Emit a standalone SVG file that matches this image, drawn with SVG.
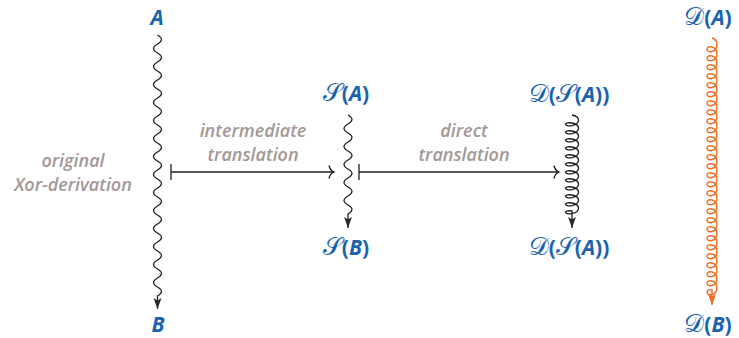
<svg xmlns="http://www.w3.org/2000/svg" width="739" height="338" viewBox="0 0 739 338">
  <style>
    .lbl { font-family: "Open Sans", "Liberation Sans", sans-serif; font-size: 21px; font-weight: bold; font-style: italic; fill: #1a62ad; }
    .lbl .up { font-style: normal; }
    .lbl .cal { font-family: "DejaVu Serif", "DejaVu Sans", serif; font-size: 25px; font-weight: normal; font-style: normal; }
    .note { font-family: "Open Sans", "Liberation Sans", sans-serif; font-size: 18px; font-weight: 600; font-style: italic; fill: #a39896; text-anchor: middle; }
    .wave { fill: none; stroke: #1e1e1e; stroke-width: 1.3; marker-end: url(#tip); }
    .coil-o { fill: none; stroke: #ee6a1f; stroke-width: 1.4; marker-end: url(#tipOrange); }
    .map { fill: none; stroke: #1e1e1e; stroke-width: 1.3; marker-start: url(#bar); marker-end: url(#hook); }
  </style>
  <defs>
    <marker id="tip" markerUnits="userSpaceOnUse" viewBox="0 0 12 10" markerWidth="12" markerHeight="10" refX="11" refY="5" orient="auto">
      <path d="M0,1 L11,5 L0,9 L2.5,5 z" fill="#2a2a2a"/>
    </marker>
    <marker id="tipOrange" markerUnits="userSpaceOnUse" viewBox="0 0 12 10" markerWidth="12" markerHeight="10" refX="11" refY="5" orient="auto">
      <path d="M0,1 L11,5 L0,9 L2.5,5 z" fill="#ee6a1f"/>
    </marker>
    <marker id="hook" markerUnits="userSpaceOnUse" viewBox="0 0 10 16" markerWidth="10" markerHeight="16" refX="9" refY="8" orient="auto" overflow="visible">
      <path d="M4,1.5 Q5,6.5 9,8 Q5,9.5 4,14.5" fill="none" stroke="#1e1e1e" stroke-width="1.3"/>
    </marker>
    <marker id="bar" markerUnits="userSpaceOnUse" viewBox="0 0 2 16" markerWidth="2" markerHeight="16" refX="1" refY="8" orient="auto" overflow="visible">
      <path d="M1,0 V16" stroke="#1e1e1e" stroke-width="1.3"/>
    </marker>
  </defs>

  <!-- nodes -->
  <g id="node-A"><text class="lbl" x="157" y="25" text-anchor="middle">A</text></g>
  <g id="node-B"><text class="lbl" x="158" y="332" text-anchor="middle">B</text></g>
  <g id="node-SA"><text class="lbl" x="346" y="101" text-anchor="middle"><tspan class="cal">𝒮</tspan><tspan class="up">(</tspan>A<tspan class="up">)</tspan></text></g>
  <g id="node-SB"><text class="lbl" x="346" y="255" text-anchor="middle"><tspan class="cal">𝒮</tspan><tspan class="up">(</tspan>B<tspan class="up">)</tspan></text></g>
  <g id="node-DSA-top"><text class="lbl" x="569" y="102" text-anchor="middle"><tspan class="cal">𝒟</tspan><tspan class="up">(</tspan><tspan class="cal">𝒮</tspan><tspan class="up">(</tspan>A<tspan class="up">))</tspan></text></g>
  <g id="node-DSA-bottom"><text class="lbl" x="569" y="255" text-anchor="middle"><tspan class="cal">𝒟</tspan><tspan class="up">(</tspan><tspan class="cal">𝒮</tspan><tspan class="up">(</tspan>A<tspan class="up">))</tspan></text></g>
  <g id="node-DA"><text class="lbl" x="708" y="25" text-anchor="middle"><tspan class="cal">𝒟</tspan><tspan class="up">(</tspan>A<tspan class="up">)</tspan></text></g>
  <g id="node-DB"><text class="lbl" x="708" y="332" text-anchor="middle"><tspan class="cal">𝒟</tspan><tspan class="up">(</tspan>B<tspan class="up">)</tspan></text></g>

  <!-- edge labels -->
  <g id="labels">
    <text class="note" x="73" y="167">original</text>
    <text class="note" x="73" y="191">Xor-derivation</text>
    <text class="note" x="253" y="137">intermediate</text>
    <text class="note" x="253" y="161">translation</text>
    <text class="note" x="464" y="137">direct</text>
    <text class="note" x="464" y="161">translation</text>
  </g>

  <!-- connectors -->
  <g id="connectors">
    <!-- A to B: snake, 14.5 periods of 18px -->
    <path class="wave" d="M157.5,35
      c5.3 3 5.3 6 0 9c-5.3 3-5.3 6 0 9 c5.3 3 5.3 6 0 9c-5.3 3-5.3 6 0 9
      c5.3 3 5.3 6 0 9c-5.3 3-5.3 6 0 9 c5.3 3 5.3 6 0 9c-5.3 3-5.3 6 0 9
      c5.3 3 5.3 6 0 9c-5.3 3-5.3 6 0 9 c5.3 3 5.3 6 0 9c-5.3 3-5.3 6 0 9
      c5.3 3 5.3 6 0 9c-5.3 3-5.3 6 0 9 c5.3 3 5.3 6 0 9c-5.3 3-5.3 6 0 9
      c5.3 3 5.3 6 0 9c-5.3 3-5.3 6 0 9 c5.3 3 5.3 6 0 9c-5.3 3-5.3 6 0 9
      c5.3 3 5.3 6 0 9c-5.3 3-5.3 6 0 9 c5.3 3 5.3 6 0 9c-5.3 3-5.3 6 0 9
      c5.3 3 5.3 6 0 9c-5.3 3-5.3 6 0 9 c5.3 3 5.3 6 0 9c-5.3 3-5.3 6 0 9
      c5.3 3 5.3 6 0 9 l0,13"/>
    <!-- S(A) to S(B): snake, 5.5 periods -->
    <path class="wave" d="M348,115
      c5.3 3 5.3 6 0 9c-5.3 3-5.3 6 0 9 c5.3 3 5.3 6 0 9c-5.3 3-5.3 6 0 9
      c5.3 3 5.3 6 0 9c-5.3 3-5.3 6 0 9 c5.3 3 5.3 6 0 9c-5.3 3-5.3 6 0 9
      c5.3 3 5.3 6 0 9c-5.3 3-5.3 6 0 9 c5.3 3 5.3 6 0 9 l0,14"/>
    <!-- D(S(A)) coil, 12 loops of 8px -->
    <path class="wave" d="M572,115
      c3.59 0.67 6.5 2.81 6.5 5.3c0 2.49-2.91 4.63-6.5 5.3c-3.59 0.67-6.5-0.15-6.5-1.3c0-1.15 2.91-1.97 6.5-1.3
      c3.59 0.67 6.5 2.81 6.5 5.3c0 2.49-2.91 4.63-6.5 5.3c-3.59 0.67-6.5-0.15-6.5-1.3c0-1.15 2.91-1.97 6.5-1.3
      c3.59 0.67 6.5 2.81 6.5 5.3c0 2.49-2.91 4.63-6.5 5.3c-3.59 0.67-6.5-0.15-6.5-1.3c0-1.15 2.91-1.97 6.5-1.3
      c3.59 0.67 6.5 2.81 6.5 5.3c0 2.49-2.91 4.63-6.5 5.3c-3.59 0.67-6.5-0.15-6.5-1.3c0-1.15 2.91-1.97 6.5-1.3
      c3.59 0.67 6.5 2.81 6.5 5.3c0 2.49-2.91 4.63-6.5 5.3c-3.59 0.67-6.5-0.15-6.5-1.3c0-1.15 2.91-1.97 6.5-1.3
      c3.59 0.67 6.5 2.81 6.5 5.3c0 2.49-2.91 4.63-6.5 5.3c-3.59 0.67-6.5-0.15-6.5-1.3c0-1.15 2.91-1.97 6.5-1.3
      c3.59 0.67 6.5 2.81 6.5 5.3c0 2.49-2.91 4.63-6.5 5.3c-3.59 0.67-6.5-0.15-6.5-1.3c0-1.15 2.91-1.97 6.5-1.3
      c3.59 0.67 6.5 2.81 6.5 5.3c0 2.49-2.91 4.63-6.5 5.3c-3.59 0.67-6.5-0.15-6.5-1.3c0-1.15 2.91-1.97 6.5-1.3
      c3.59 0.67 6.5 2.81 6.5 5.3c0 2.49-2.91 4.63-6.5 5.3c-3.59 0.67-6.5-0.15-6.5-1.3c0-1.15 2.91-1.97 6.5-1.3
      c3.59 0.67 6.5 2.81 6.5 5.3c0 2.49-2.91 4.63-6.5 5.3c-3.59 0.67-6.5-0.15-6.5-1.3c0-1.15 2.91-1.97 6.5-1.3
      c3.59 0.67 6.5 2.81 6.5 5.3c0 2.49-2.91 4.63-6.5 5.3c-3.59 0.67-6.5-0.15-6.5-1.3c0-1.15 2.91-1.97 6.5-1.3
      c3.59 0.67 6.5 2.81 6.5 5.3c0 2.49-2.91 4.63-6.5 5.3c-3.59 0.67-6.5-0.15-6.5-1.3c0-1.15 2.91-1.97 6.5-1.3
      l0,17"/>
    <!-- D(A) to D(B): orange coil, 28 loops of 9px -->
    <path class="coil-o" d="M712,38
      c2.76 0.75 5 3.51 5 6.75c0 3.24-2.24 6-5 6.75c-2.76 0.75-5-0.51-5-2.25c0-1.74 2.24-3 5-2.25
      c2.76 0.75 5 3.51 5 6.75c0 3.24-2.24 6-5 6.75c-2.76 0.75-5-0.51-5-2.25c0-1.74 2.24-3 5-2.25
      c2.76 0.75 5 3.51 5 6.75c0 3.24-2.24 6-5 6.75c-2.76 0.75-5-0.51-5-2.25c0-1.74 2.24-3 5-2.25
      c2.76 0.75 5 3.51 5 6.75c0 3.24-2.24 6-5 6.75c-2.76 0.75-5-0.51-5-2.25c0-1.74 2.24-3 5-2.25
      c2.76 0.75 5 3.51 5 6.75c0 3.24-2.24 6-5 6.75c-2.76 0.75-5-0.51-5-2.25c0-1.74 2.24-3 5-2.25
      c2.76 0.75 5 3.51 5 6.75c0 3.24-2.24 6-5 6.75c-2.76 0.75-5-0.51-5-2.25c0-1.74 2.24-3 5-2.25
      c2.76 0.75 5 3.51 5 6.75c0 3.24-2.24 6-5 6.75c-2.76 0.75-5-0.51-5-2.25c0-1.74 2.24-3 5-2.25
      c2.76 0.75 5 3.51 5 6.75c0 3.24-2.24 6-5 6.75c-2.76 0.75-5-0.51-5-2.25c0-1.74 2.24-3 5-2.25
      c2.76 0.75 5 3.51 5 6.75c0 3.24-2.24 6-5 6.75c-2.76 0.75-5-0.51-5-2.25c0-1.74 2.24-3 5-2.25
      c2.76 0.75 5 3.51 5 6.75c0 3.24-2.24 6-5 6.75c-2.76 0.75-5-0.51-5-2.25c0-1.74 2.24-3 5-2.25
      c2.76 0.75 5 3.51 5 6.75c0 3.24-2.24 6-5 6.75c-2.76 0.75-5-0.51-5-2.25c0-1.74 2.24-3 5-2.25
      c2.76 0.75 5 3.51 5 6.75c0 3.24-2.24 6-5 6.75c-2.76 0.75-5-0.51-5-2.25c0-1.74 2.24-3 5-2.25
      c2.76 0.75 5 3.51 5 6.75c0 3.24-2.24 6-5 6.75c-2.76 0.75-5-0.51-5-2.25c0-1.74 2.24-3 5-2.25
      c2.76 0.75 5 3.51 5 6.75c0 3.24-2.24 6-5 6.75c-2.76 0.75-5-0.51-5-2.25c0-1.74 2.24-3 5-2.25
      c2.76 0.75 5 3.51 5 6.75c0 3.24-2.24 6-5 6.75c-2.76 0.75-5-0.51-5-2.25c0-1.74 2.24-3 5-2.25
      c2.76 0.75 5 3.51 5 6.75c0 3.24-2.24 6-5 6.75c-2.76 0.75-5-0.51-5-2.25c0-1.74 2.24-3 5-2.25
      c2.76 0.75 5 3.51 5 6.75c0 3.24-2.24 6-5 6.75c-2.76 0.75-5-0.51-5-2.25c0-1.74 2.24-3 5-2.25
      c2.76 0.75 5 3.51 5 6.75c0 3.24-2.24 6-5 6.75c-2.76 0.75-5-0.51-5-2.25c0-1.74 2.24-3 5-2.25
      c2.76 0.75 5 3.51 5 6.75c0 3.24-2.24 6-5 6.75c-2.76 0.75-5-0.51-5-2.25c0-1.74 2.24-3 5-2.25
      c2.76 0.75 5 3.51 5 6.75c0 3.24-2.24 6-5 6.75c-2.76 0.75-5-0.51-5-2.25c0-1.74 2.24-3 5-2.25
      c2.76 0.75 5 3.51 5 6.75c0 3.24-2.24 6-5 6.75c-2.76 0.75-5-0.51-5-2.25c0-1.74 2.24-3 5-2.25
      c2.76 0.75 5 3.51 5 6.75c0 3.24-2.24 6-5 6.75c-2.76 0.75-5-0.51-5-2.25c0-1.74 2.24-3 5-2.25
      c2.76 0.75 5 3.51 5 6.75c0 3.24-2.24 6-5 6.75c-2.76 0.75-5-0.51-5-2.25c0-1.74 2.24-3 5-2.25
      c2.76 0.75 5 3.51 5 6.75c0 3.24-2.24 6-5 6.75c-2.76 0.75-5-0.51-5-2.25c0-1.74 2.24-3 5-2.25
      c2.76 0.75 5 3.51 5 6.75c0 3.24-2.24 6-5 6.75c-2.76 0.75-5-0.51-5-2.25c0-1.74 2.24-3 5-2.25
      c2.76 0.75 5 3.51 5 6.75c0 3.24-2.24 6-5 6.75c-2.76 0.75-5-0.51-5-2.25c0-1.74 2.24-3 5-2.25
      c2.76 0.75 5 3.51 5 6.75c0 3.24-2.24 6-5 6.75c-2.76 0.75-5-0.51-5-2.25c0-1.74 2.24-3 5-2.25
      c2.76 0.75 5 3.51 5 6.75c0 3.24-2.24 6-5 6.75c-2.76 0.75-5-0.51-5-2.25c0-1.74 2.24-3 5-2.25
      l0,15"/>
    <!-- translation maps -->
    <path class="map" d="M171,172 H334"/>
    <path class="map" d="M359,172 H559"/>
  </g>
</svg>
